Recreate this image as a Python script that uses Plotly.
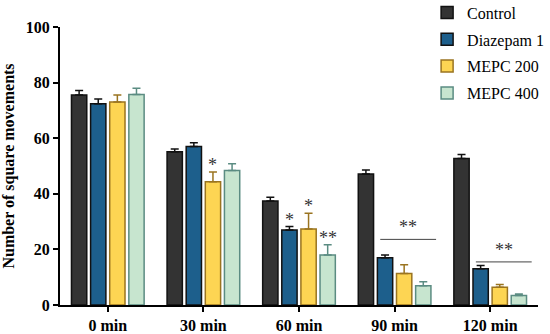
import plotly.graph_objects as go

categories = ["0 min", "30 min", "60 min", "90 min", "120 min"]
series_names = ["Control", "Diazepam 1", "MEPC 200", "MEPC 400"]
control = [75.5, 55.1, 37.4, 47.1, 52.7]
control_err = [1.7, 1.0, 1.4, 1.5, 1.4]
diazepam = [72.4, 57.0, 27.0, 17.0, 13.0]
diazepam_err = [1.7, 1.4, 1.2, 1.0, 1.2]
mepc200 = [73.0, 44.3, 27.3, 11.3, 6.4]
mepc200_err = [2.5, 3.5, 5.7, 3.2, 1.0]
mepc400 = [75.7, 48.4, 18.0, 6.9, 3.4]
mepc400_err = [2.3, 2.4, 3.7, 1.5, 0.6]
y_ticks = [0, 20, 40, 60, 80, 100]

values = [control, diazepam, mepc200, mepc400]
errors = [control_err, diazepam_err, mepc200_err, mepc400_err]
fills = ["#333333", "#1d5f8c", "#fdd553", "#c7e5cf"]
outlines = ["#111111", "#111111", "#9a7420", "#5b8c82"]

# significance marks over single bars: (category index, series index, text)
star_marks = [(1, 2, "*"), (2, 1, "*"), (2, 2, "*"), (2, 3, "**")]
# significance lines over groups: (category index, line value, text)
group_marks = [(3, 23.6, "**"), (4, 15.5, "**")]

SERIF = "Liberation Serif"

x_idx = list(range(len(categories)))
fig = go.Figure()
for i, (name, v, e, fc, lc) in enumerate(zip(series_names, values, errors, fills, outlines)):
    fig.add_trace(go.Bar(
        x=x_idx, y=v, name=name, legendgroup=f"g{i}",
        marker=dict(color=fc, line=dict(color=lc, width=1.5)),
        error_y=dict(type="data", array=e, arrayminus=[0] * len(e), symmetric=False,
                     color=lc, thickness=1.5, width=4),
    ))

bargap = 0.2
groupgap = 0.2
slot = (1 - bargap) / len(series_names)
for ci, si, txt in star_marks:
    xc = ci - (1 - bargap) / 2 + slot * (si + 0.5)
    ytop = values[si][ci] + errors[si][ci]
    fig.add_annotation(x=xc, y=ytop, text=txt, showarrow=False, yanchor="bottom",
                       yshift=-5, font=dict(family=SERIF, size=18, color="#333333"))
for ci, yv, txt in group_marks:
    x0 = ci - (1 - bargap) / 2 + slot * 1.25
    x1 = ci + (1 - bargap) / 2 + slot * 0.17
    fig.add_shape(type="line", x0=x0, x1=x1, y0=yv, y1=yv, xref="x", yref="y",
                  line=dict(color="#444444", width=1))
    fig.add_annotation(x=(x0 + x1) / 2, y=yv, text=txt, showarrow=False, yanchor="bottom",
                       yshift=0, font=dict(family=SERIF, size=18, color="#333333"))

bold_cats = [f"<b>{c}</b>" for c in categories]
bold_y = [f"<b>{t}</b>" for t in y_ticks]

fig.update_layout(
    width=550, height=334,
    margin=dict(l=60, r=12, t=27, b=29, autoexpand=False),
    plot_bgcolor="white", paper_bgcolor="white",
    barmode="group", bargap=bargap, bargroupgap=groupgap,
    font=dict(family=SERIF, color="black"),
    showlegend=True,
    legend=dict(x=0.768, y=1.113, xanchor="left", yanchor="top",
                font=dict(family=SERIF, size=16, color="black"),
                itemwidth=30, tracegroupgap=3, bgcolor="rgba(0,0,0,0)"),
    xaxis=dict(range=[-0.5, 4.5], tickvals=x_idx, ticktext=bold_cats,
               showline=True, linecolor="black", linewidth=2,
               ticks="outside", ticklen=5, tickwidth=2, tickcolor="black",
               showgrid=False, zeroline=False,
               tickfont=dict(family=SERIF, size=16, color="black")),
    yaxis=dict(range=[0, 100], tickvals=y_ticks, ticktext=bold_y,
               showline=True, linecolor="black", linewidth=2,
               ticks="outside", ticklen=5, tickwidth=2, tickcolor="black",
               showgrid=False, zeroline=False,
               title=dict(text="<b>Number of square movements</b>", standoff=8,
                          font=dict(family=SERIF, size=16, color="black")),
               tickfont=dict(family=SERIF, size=16, color="black")),
)
fig.write_html("out.html", config={"displayModeBar": False},
               post_script="document.body.style.margin='0px';")
